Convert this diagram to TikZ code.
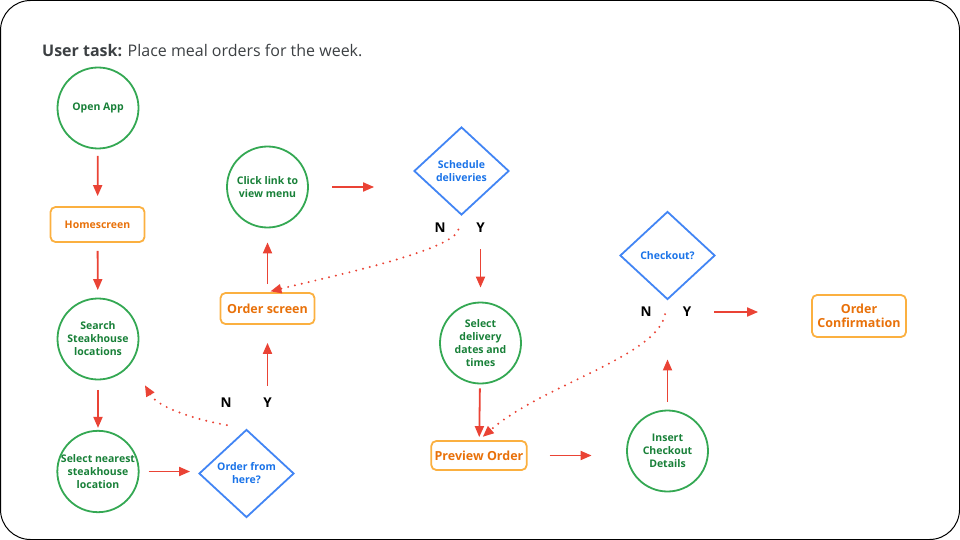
\documentclass[tikz,border=0pt]{standalone}
\usepackage{fontspec}
\setmainfont{Open Sans}
\usetikzlibrary{shapes.geometric, arrows.meta, positioning}

\definecolor{gborder}{HTML}{34A853}
\definecolor{gtext}{HTML}{188038}
\definecolor{oborder}{HTML}{FBB040}
\definecolor{otext}{HTML}{E8710A}
\definecolor{bborder}{HTML}{4285F4}
\definecolor{btext}{HTML}{1A73E8}
\definecolor{arrred}{HTML}{EA4335}
\definecolor{titlegray}{HTML}{3C4043}

\begin{document}
\begin{tikzpicture}[
    x=1pt, y=1pt,
    every node/.style={font=\fontsize{10.5}{13}\selectfont\bfseries},
    act/.style={circle, draw=gborder, line width=1.8pt, minimum size=81pt, inner sep=0pt,
                align=center, text=gtext},
    screen/.style={draw=oborder, line width=1.8pt, rounded corners=5pt, minimum width=94pt,
                minimum height=31pt, align=center, text=otext},
    choice/.style={diamond, draw=bborder, line width=1.8pt, minimum width=95pt, minimum height=88pt,
                inner sep=0pt, align=center, text=btext},
    yn/.style={font=\fontsize{13.5}{14}\selectfont\bfseries, inner sep=1pt},
    arrow/.style={-{Triangle[length=11pt,width=9pt]}, line width=1.8pt, draw=arrred},
    back/.style={arrow, line width=2.2pt, dash pattern=on 0pt off 7pt, line cap=round}
]
\useasboundingbox (0,0) rectangle (960,-540);
\draw[line width=1pt, rounded corners=30pt] (0.5,-0.5) rectangle (959.5,-539.5);

\node[anchor=west, inner sep=0pt, text=titlegray, font=\fontsize{16}{18}\selectfont] (task) at (42,-50)
    {\textbf{User task:} Place meal orders for the week.};

% left column
\node[act] (open) at (98,-108) {Open App};
\node[screen, minimum height=35pt] (home) at (97.5,-224.5) {Homescreen};
\node[act] (search) at (98,-339) {Search\\Steakhouse\\locations};
\node[act] (nearest) at (98,-471.5) {Select nearest\\steakhouse\\location};
\node[choice] (orderq) at (246.5,-473.5) {Order from\\here?};
\node[yn] (no1) at (226,-403) {N};
\node[yn] (yes1) at (267.5,-403) {Y};

% menu
\node[screen, font=\fontsize{12.5}{15}\selectfont\bfseries] (orderscr) at (267.5,-308.5) {Order screen};
\node[act] (click) at (267.5,-187) {Click link to\\view menu};
\node[choice] (sched) at (461.5,-171) {Schedule\\deliveries};
\node[yn] (no2) at (440,-228) {N};
\node[yn] (yes2) at (480.5,-228) {Y};

% delivery and checkout
\node[act] (seldate) at (480.5,-343) {Select\\delivery\\dates and\\times};
\node[screen, minimum height=29pt, font=\fontsize{12.5}{15}\selectfont\bfseries] (preview) at (479,-455.5) {Preview Order};
\node[act] (insert) at (667.5,-451) {Insert\\Checkout\\Details};
\node[choice] (checkout) at (667.5,-255.5) {Checkout?};
\node[yn] (no3) at (646,-312) {N};
\node[yn] (yes3) at (687,-312) {Y};
\node[screen, minimum height=42pt, font=\fontsize{12.5}{14}\selectfont\bfseries] (confirm) at (859,-316) {Order\\Confirmation};

\draw[arrow, shorten <=6.5pt, shorten >=10pt] (open) -- (home);
\draw[arrow, shorten <=8pt, shorten >=7.5pt] (home) -- (search);
\draw[arrow, shorten <=9.5pt, shorten >=2pt] (search) -- (nearest);
\draw[arrow, shorten <=9pt, shorten >=8pt] (nearest.east) -- (nearest.east -| orderq.west);
\draw[back, shorten <=20pt, shorten >=26pt] (orderq.north) to[out=170, in=-60] (search.-35);
\draw[arrow, shorten <=11pt, shorten >=18pt] (yes1) -- (orderscr);
\draw[arrow, shorten <=8pt, shorten >=14pt] (orderscr) -- (click);
\draw[arrow, shorten <=23.5pt, shorten >=39pt] (click.east) -- (click.east -| sched.west);
\draw[back, shorten <=14pt, shorten >=3pt] (sched.south) .. controls +(-8,-35) and +(60,15) .. (orderscr.north);
\draw[arrow, shorten <=15pt, shorten >=14pt] (yes2) -- (seldate);
\draw[arrow, shorten <=4pt, shorten >=3pt] (seldate) -- (preview);
\draw[back, shorten <=14pt, shorten >=5pt] (checkout.south) .. controls +(-10,-56) and +(63,55) .. (preview.north);
\draw[arrow, shorten <=22pt, shorten >=34.5pt] (preview.east) -- (preview.east -| insert.west);
\draw[arrow, shorten <=8pt, shorten >=59pt] (insert) -- (checkout);
\draw[arrow, shorten <=22pt, shorten >=53pt] (yes3.east) -- (yes3.east -| confirm.west);
\end{tikzpicture}
\end{document}
